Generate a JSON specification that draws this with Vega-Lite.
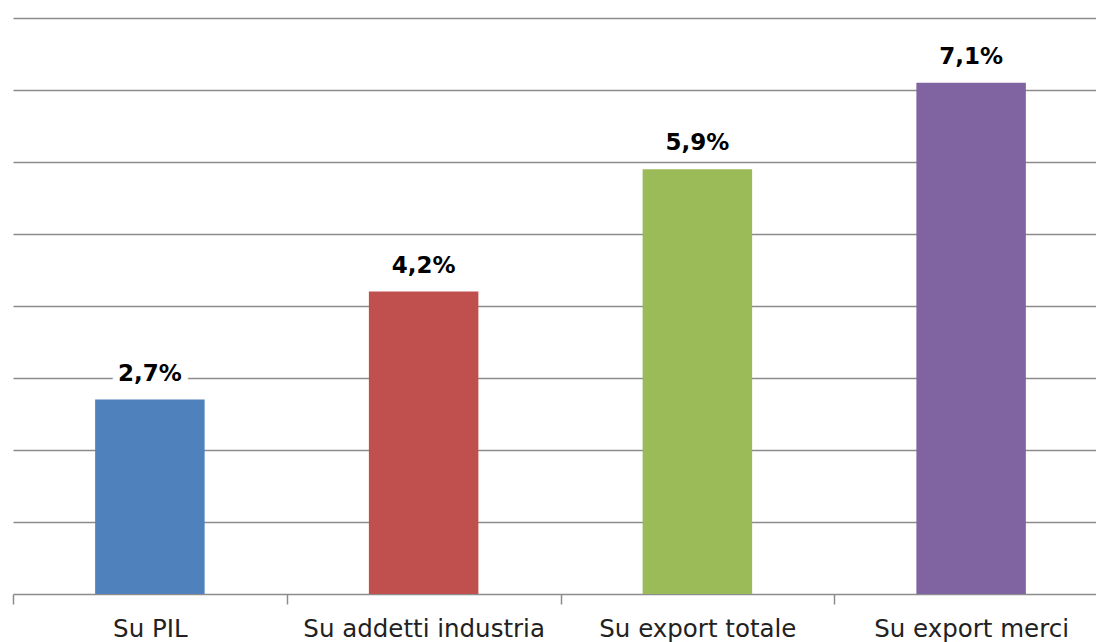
{
  "$schema": "https://vega.github.io/schema/vega-lite/v6.json",
  "width": 1083,
  "height": 576,
  "autosize": {"type": "none"},
  "padding": {"left": 13, "top": 18, "right": 0, "bottom": 48},
  "background": "white",
  "config": {"view": {"stroke": null}},
  "data": {
    "values": [
      {"cat": "Su PIL", "value": 2.7, "label": "2,7%"},
      {"cat": "Su addetti industria", "value": 4.2, "label": "4,2%"},
      {"cat": "Su export totale", "value": 5.9, "label": "5,9%"},
      {"cat": "Su export merci", "value": 7.1, "label": "7,1%"}
    ]
  },
  "encoding": {
    "x": {
      "field": "cat",
      "type": "nominal",
      "sort": null,
      "scale": {"range": [0, 1095], "paddingInner": 0, "paddingOuter": 0},
      "axis": {
        "title": null,
        "labelAngle": 0,
        "tickBand": "extent",
        "tickSize": 10,
        "tickColor": "#8c8c8c",
        "tickWidth": 1.5,
        "domainColor": "#8c8c8c",
        "domainWidth": 1.5,
        "labelFont": "DejaVu Sans",
        "labelFontSize": 24.5,
        "labelColor": "#222222",
        "labelPadding": 13,
        "labelLimit": 400,
        "grid": false
      }
    },
    "y": {
      "field": "value",
      "type": "quantitative",
      "scale": {"domain": [0, 8]},
      "axis": {
        "title": null,
        "labels": false,
        "ticks": false,
        "domain": false,
        "grid": true,
        "values": [1, 2, 3, 4, 5, 6, 7, 8],
        "gridColor": "#8c8c8c",
        "gridWidth": 1.5
      }
    }
  },
  "layer": [
    {
      "mark": {"type": "bar", "width": {"band": 0.4}},
      "encoding": {
        "color": {
          "field": "cat",
          "type": "nominal",
          "sort": null,
          "scale": {"range": ["#4F81BD", "#C0504D", "#9BBB59", "#8064A2"]},
          "legend": null
        }
      }
    },
    {
      "mark": {"type": "text", "baseline": "alphabetic", "dy": -19, "font": "DejaVu Sans", "fontWeight": "bold", "fontSize": 23, "stroke": "white", "strokeWidth": 14, "strokeJoin": "round", "fill": "white"},
      "encoding": {"text": {"field": "label"}}
    },
    {
      "mark": {"type": "text", "baseline": "alphabetic", "dy": -19, "font": "DejaVu Sans", "fontWeight": "bold", "fontSize": 23, "fill": "black"},
      "encoding": {"text": {"field": "label"}}
    }
  ]
}
